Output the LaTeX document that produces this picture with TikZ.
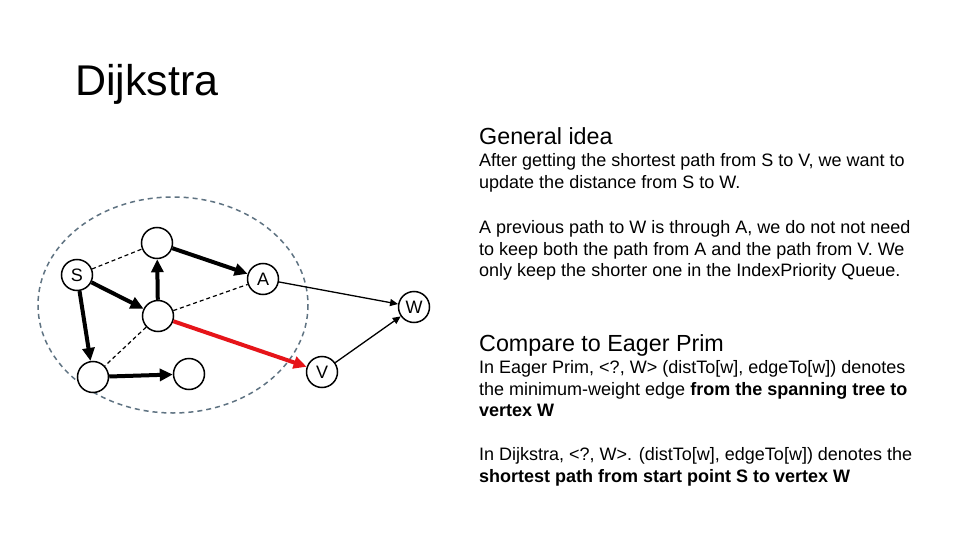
\documentclass[tikz,border=0pt]{standalone}
\usepackage{fontspec}
\setmainfont{Liberation Sans}
\usetikzlibrary{arrows.meta}
\definecolor{ellcol}{RGB}{95,115,130}
\definecolor{redge}{RGB}{230,20,25}
\begin{document}
\begin{tikzpicture}[x=1pt,y=-1pt,
  vtx/.style={circle,draw,line width=1.5pt,minimum size=31pt,inner sep=0pt,fill=white,font=\fontsize{18}{20}\selectfont},
  tree/.style={line width=4pt,-{Triangle[length=13pt,width=12pt]}},
  redarrow/.style={tree,draw=redge},
  thinarrow/.style={line width=1.3pt,-{Triangle[length=8pt,width=7pt]}},
  dashedge/.style={line width=1.2pt,dash pattern=on 4pt off 3pt},
  ellipsestyle/.style={draw=ellcol,line width=1.5pt,dash pattern=on 5pt off 4pt},
  txt/.style={anchor=base west,inner sep=0pt,font=\fontsize{18}{22}\selectfont},
  head/.style={anchor=base west,inner sep=0pt,font=\fontsize{23.3}{26}\selectfont},
]
\useasboundingbox (0,0) rectangle (960,540);
\fill[white] (0,0) rectangle (960,540);

\node[anchor=base west,inner sep=0pt,font=\fontsize{43}{50}\selectfont] (title) at (75,96) {Dijkstra};

% graph
\draw[ellipsestyle] (173,305) ellipse [x radius=135, y radius=108];

\node[vtx] (S) at (77,275) {S};
\node[vtx] (T) at (157,243) {};
\node[vtx] (M) at (158,316) {};
\node[vtx] (A) at (263,279) {A};
\node[vtx] (BL) at (93,377) {};
\node[vtx] (BR) at (189,374) {};
\node[vtx] (V) at (322,372) {V};
\node[vtx] (W) at (414,307) {W};

\draw[dashedge] (S) -- (T);
\draw[dashedge] (M) -- (A);
\draw[dashedge] (M) -- (BL);
\draw[tree] (S) -- (M);
\draw[tree] (S) -- (BL);
\draw[tree] (M) -- (T);
\draw[tree] (T) -- (A);
\draw[tree] (BL) -- (BR);
\draw[redarrow] (M) -- (V);
\draw[thinarrow] (A) -- (W);
\draw[thinarrow] (V) -- (W);

% text
\node[head] (h1) at (479,145) {General idea};
\node[txt] (l1) at (479,167) {After getting the shortest path from S to V, we want to};
\node[txt] (l2) at (479,189) {update the distance from S to W.};
\node[txt] (l3) at (479,233) {A previous path to W is through A, we do not not need};
\node[txt] (l4) at (479,255) {to keep both the path from A and the path from V. We};
\node[txt] (l5) at (479,276) {only keep the shorter one in the IndexPriority Queue.};

\node[head] (h2) at (479,351) {Compare to Eager Prim};
\node[txt] (m1) at (479,373) {In Eager Prim, <?, W> (distTo[w], edgeTo[w]) denotes};
\node[txt] (m2) at (479,395) {the minimum-weight edge \textbf{from the spanning tree to}};
\node[txt] (m3) at (479,416) {\textbf{vertex W}};
\node[txt] (m4) at (479,460) {In Dijkstra, <?, W>. (distTo[w], edgeTo[w]) denotes the};
\node[txt] (m5) at (479,482) {\textbf{shortest path from start point S to vertex W}};
\end{tikzpicture}
\end{document}
